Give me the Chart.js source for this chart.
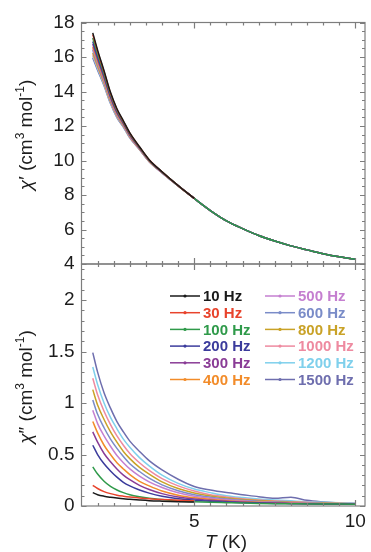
<!DOCTYPE html>
<html><head><meta charset="utf-8">
<script src="https://cdn.jsdelivr.net/npm/chart.js@4/dist/chart.umd.min.js"></script>
<style>
html,body{margin:0;padding:0;background:#fff;}
#wrap{position:relative;width:371px;height:552px;}
canvas{position:absolute;left:0;top:0;}
</style></head><body>
<div id="wrap"><canvas id="cTop" width="371" height="552"></canvas><canvas id="cBot" width="371" height="552"></canvas></div>
<script>
// ---------------- data ----------------
const temps = [1.85, 2.0, 2.2, 2.4, 2.6, 2.8, 3.0, 3.3, 3.6, 4.0, 4.5, 5.0, 5.5, 6.0, 6.5, 7.0, 7.5, 8.0, 8.5, 9.0, 9.5, 10.0];
const freqLabels = ['10 Hz','30 Hz','100 Hz','200 Hz','300 Hz','400 Hz','500 Hz','600 Hz','800 Hz','1000 Hz','1200 Hz','1500 Hz'];
const freqColors = ['#1a1a1a','#e8432c','#2f9a4a','#3b3b9c','#8a3c96','#f28c2a','#c57fd0','#7a8cc8','#c9a227','#ee8aa0','#7fd0ec','#6e6eae'];

// chi' (in-phase), cm3 mol-1
const chiIn10   = [17.4,16.4,15.2,13.95,13.0,12.3,11.6,10.8,10.05,9.35,8.55,7.8];
const chiIn30   = [17.3,16.32,15.14,13.9,12.96,12.27,11.58,10.79,10.04,9.35,8.55,7.8];
const chiIn100  = [17.1,16.16,15.02,13.82,12.9,12.23,11.54,10.76,10.03,9.34,8.54,7.8,7.1,6.5,6.05,5.65,5.33,5.05,4.82,4.6,4.42,4.28];
const chiIn200  = [16.9,16.0,14.9,13.73,12.83,12.18,11.5,10.74,10.01,9.33,8.54,7.8,7.1,6.5,6.05,5.65,5.33,5.05,4.82,4.6,4.42,4.28];
const chiIn300  = [16.75,15.88,14.81,13.66,12.77,12.14,11.47,10.72,10.0,9.32,8.54,7.8,7.1,6.5,6.05,5.65,5.33,5.05,4.82,4.6,4.42,4.28];
const chiIn400  = [16.6,15.76,14.72,13.59,12.72,12.1,11.44,10.7,9.99,9.31,8.53,7.8,7.1,6.5,6.05,5.65,5.33,5.05,4.82,4.6,4.42,4.28];
const chiIn500  = [16.5,15.68,14.66,13.54,12.68,12.07,11.42,10.69,9.98,9.3,8.53,7.8,7.1,6.5,6.05,5.65,5.33,5.05,4.82,4.6,4.42,4.28];
const chiIn600  = [16.4,15.6,14.6,13.5,12.65,12.05,11.4,10.68,9.97,9.3,8.53,7.8,7.1,6.5,6.05,5.65,5.33,5.05,4.82,4.6,4.42,4.28];
const chiIn800  = [16.25,15.48,14.51,13.43,12.6,12.01,11.37,10.66,9.96,9.29,8.53,7.8,7.1,6.5,6.05,5.65,5.33,5.05,4.82,4.6,4.42,4.28];
const chiIn1000 = [16.15,15.4,14.45,13.39,12.56,11.99,11.35,10.65,9.95,9.29,8.52,7.8,7.1,6.5,6.05,5.65,5.33,5.05,4.82,4.6,4.42,4.28];
const chiIn1200 = [16.05,15.32,14.39,13.34,12.53,11.96,11.33,10.64,9.94,9.28,8.52,7.8,7.1,6.5,6.05,5.65,5.33,5.05,4.82,4.6,4.42,4.28];
const chiIn1500 = [15.95,15.24,14.33,13.3,12.49,11.94,11.31,10.63,9.93,9.28,8.52,7.8,7.1,6.5,6.05,5.65,5.33,5.05,4.82,4.6,4.42,4.28];

// chi'' (out-of-phase), cm3 mol-1
const chiOut10   = [0.13,0.11,0.095,0.085,0.077,0.07,0.065,0.058,0.052,0.047,0.042,0.038];
const chiOut30   = [0.2,0.17,0.14,0.12,0.105,0.095,0.087,0.078,0.07,0.062,0.055,0.05];
const chiOut100  = [0.38,0.31,0.24,0.19,0.155,0.13,0.11,0.09,0.075,0.062,0.05,0.042,0.036,0.032,0.028,0.025,0.023,0.022,0.02,0.02,0.019,0.018];
const chiOut200  = [0.59,0.5,0.41,0.34,0.28,0.23,0.195,0.155,0.125,0.095,0.07,0.055,0.045,0.038,0.032,0.028,0.025,0.023,0.021,0.02,0.019,0.018];
const chiOut300  = [0.72,0.62,0.51,0.43,0.36,0.3,0.255,0.2,0.16,0.12,0.088,0.068,0.055,0.045,0.038,0.032,0.028,0.025,0.022,0.02,0.019,0.018];
const chiOut400  = [0.82,0.71,0.59,0.5,0.42,0.36,0.305,0.24,0.195,0.145,0.105,0.08,0.064,0.052,0.043,0.036,0.031,0.027,0.024,0.022,0.02,0.019];
const chiOut500  = [0.93,0.8,0.68,0.58,0.49,0.42,0.36,0.29,0.235,0.18,0.128,0.095,0.075,0.06,0.05,0.041,0.035,0.03,0.026,0.023,0.021,0.02];
const chiOut600  = [1.03,0.89,0.76,0.65,0.56,0.48,0.41,0.335,0.27,0.205,0.148,0.11,0.086,0.068,0.055,0.046,0.038,0.033,0.028,0.025,0.022,0.02];
const chiOut800  = [1.13,0.98,0.84,0.72,0.62,0.53,0.46,0.375,0.31,0.235,0.17,0.127,0.098,0.078,0.064,0.053,0.044,0.037,0.032,0.028,0.024,0.022];
const chiOut1000 = [1.24,1.08,0.92,0.79,0.68,0.59,0.51,0.42,0.345,0.265,0.195,0.145,0.11,0.088,0.07,0.058,0.049,0.042,0.036,0.031,0.027,0.024];
const chiOut1200 = [1.35,1.18,1.0,0.86,0.75,0.65,0.57,0.47,0.39,0.3,0.22,0.165,0.13,0.1,0.082,0.068,0.058,0.05,0.042,0.036,0.031,0.027];
const chiOut1500 = [1.49,1.3,1.1,0.95,0.82,0.72,0.63,0.53,0.44,0.35,0.26,0.19,0.155,0.13,0.11,0.09,0.075,0.085,0.055,0.04,0.03,0.025];

const chiInSeries  = [chiIn10,chiIn30,chiIn100,chiIn200,chiIn300,chiIn400,chiIn500,chiIn600,chiIn800,chiIn1000,chiIn1200,chiIn1500];
const chiOutSeries = [chiOut10,chiOut30,chiOut100,chiOut200,chiOut300,chiOut400,chiOut500,chiOut600,chiOut800,chiOut1000,chiOut1200,chiOut1500];

const xTickValues = [5, 10];
const yTickValuesTop = [4, 6, 8, 10, 12, 14, 16, 18];
const yTickValuesBottom = [0, 0.5, 1, 1.5, 2];

// ---------------- style ----------------
const FONT = "'Liberation Sans', Arial, sans-serif";
const AXIS_COLOR = '#7d7d7d';
const TEXT_COLOR = '#1c1c1c';

function buildDatasets(series) {
  return series.map((vals, i) => ({
    label: freqLabels[i],
    data: vals.map((v, k) => ({x: temps[k], y: v})),
    borderColor: freqColors[i],
    backgroundColor: freqColors[i],
    borderWidth: 1.5,
    pointRadius: 0,
    fill: false,
    cubicInterpolationMode: 'monotone'
  }));
}

function near(v, step) { const r = v / step; return Math.abs(r - Math.round(r)) < 1e-6; }

const framePlugin = {
  id: 'frame',
  afterDatasetsDraw(chart, args, o) {
    const {ctx, chartArea: a, scales} = chart;
    const xs = scales.x, ys = scales.y;
    ctx.save();
    ctx.strokeStyle = AXIS_COLOR;
    ctx.lineWidth = 1.2;
    ctx.strokeRect(a.left, a.top, a.right - a.left, a.bottom - a.top);
    ctx.beginPath();
    for (let i = 0; ; i++) {
      const v = o.xFrom + i * o.xMinor;
      if (v > o.xTo + 1e-9) break;
      const px = Math.round(xs.getPixelForValue(v)) + 0.5;
      const L = near(v, o.xMajor) ? 6 : 3;
      ctx.moveTo(px, a.top); ctx.lineTo(px, a.top + L);
      ctx.moveTo(px, a.bottom); ctx.lineTo(px, a.bottom - L);
    }
    for (let i = 0; ; i++) {
      const v = o.yFrom + i * o.yMinor;
      if (v > o.yTo + 1e-9) break;
      const py = Math.round(ys.getPixelForValue(v)) + 0.5;
      const L = near(v, o.yMajor) ? 5 : 3;
      ctx.moveTo(a.left, py); ctx.lineTo(a.left + L, py);
      ctx.moveTo(a.right, py); ctx.lineTo(a.right - L, py);
    }
    ctx.stroke();
    ctx.restore();
  }
};

function drawRich(ctx, pieces, cx, cy, rot) {
  ctx.save();
  ctx.translate(cx, cy);
  if (rot) ctx.rotate(rot);
  let total = 0;
  pieces.forEach(p => { ctx.font = p.font; total += ctx.measureText(p.t).width; });
  let x = -total / 2;
  ctx.textBaseline = 'alphabetic';
  ctx.textAlign = 'left';
  ctx.fillStyle = TEXT_COLOR;
  pieces.forEach(p => {
    ctx.font = p.font;
    ctx.fillText(p.t, x, 7 + (p.dy || 0));
    x += ctx.measureText(p.t).width;
  });
  ctx.restore();
}

const titlePlugin = {
  id: 'titles',
  afterDraw(chart, args, o) {
    const ctx = chart.ctx;
    const big = '19px ' + FONT, ital = 'italic 19px ' + FONT, sup = '12px ' + FONT;
    if (o.yTitle) {
      drawRich(ctx, [
        {t: 'χ', font: ital}, {t: o.yTitle, font: big}, {t: ' (cm', font: big},
        {t: '3', font: sup, dy: -8}, {t: ' mol', font: big}, {t: '-1', font: sup, dy: -8}, {t: ')', font: big}
      ], o.yx, o.yy, -Math.PI / 2);
    }
    if (o.xTitle) {
      drawRich(ctx, [{t: 'T', font: ital}, {t: ' (K)', font: big}], o.xx, o.xy, 0);
    }
    if (o.legend) {
      const ds = chart.data.datasets;
      ctx.save();
      ctx.font = 'bold 15px ' + FONT;
      ctx.textBaseline = 'middle';
      ds.forEach((d, i) => {
        const col = Math.floor(i / 6), row = i % 6;
        const y = 296 + row * 16.7;
        const x0 = col === 0 ? 170 : 265;
        ctx.strokeStyle = d.borderColor; ctx.lineWidth = 1.5;
        ctx.beginPath(); ctx.moveTo(x0, y); ctx.lineTo(x0 + 30, y); ctx.stroke();
        ctx.fillStyle = d.borderColor;
        ctx.beginPath(); ctx.arc(x0 + 15, y, 1.6, 0, Math.PI * 2); ctx.fill();
        ctx.fillText(d.label, x0 + 33, y + 1);
      });
      ctx.restore();
    }
  }
};

function yAxis(min, max, tickVals) {
  return {
    type: 'linear', min, max,
    afterBuildTicks: s => { s.ticks = tickVals.map(v => ({value: v})); },
    afterFit: s => { s.width = 81.5; },
    grid: {display: false, drawTicks: false},
    border: {display: false},
    ticks: {color: TEXT_COLOR, font: {family: FONT, size: 19}, padding: 7, callback: v => String(v)}
  };
}

const commonOpts = {
  responsive: false, animation: false, devicePixelRatio: 1,
  events: [],
  plugins: {legend: {display: false}, tooltip: {enabled: false}}
};

new Chart(document.getElementById('cTop'), {
  type: 'line',
  data: {datasets: buildDatasets(chiInSeries)},
  plugins: [framePlugin, titlePlugin],
  options: {
    ...commonOpts,
    layout: {padding: {top: 22.5, right: 6, bottom: 288, left: 0}},
    scales: {
      x: {type: 'linear', min: 1.5, max: 10.3, display: false},
      y: yAxis(4, 18, yTickValuesTop)
    },
    plugins: {
      ...commonOpts.plugins,
      frame: {xFrom: 2, xTo: 10, xMinor: 0.5, xMajor: 5, yFrom: 4, yTo: 18, yMinor: 0.5, yMajor: 2},
      titles: {yTitle: '′', yx: 25, yy: 135}
    }
  }
});

new Chart(document.getElementById('cBot'), {
  type: 'line',
  data: {datasets: buildDatasets(chiOutSeries)},
  plugins: [framePlugin, titlePlugin],
  options: {
    ...commonOpts,
    layout: {padding: {top: 264, right: 6, bottom: 0, left: 0}},
    scales: {
      x: {
        type: 'linear', min: 1.5, max: 10.3,
        afterBuildTicks: s => { s.ticks = xTickValues.map(v => ({value: v})); },
        afterFit: s => { s.height = 46; },
        grid: {display: false, drawTicks: false},
        border: {display: false},
        ticks: {color: TEXT_COLOR, font: {family: FONT, size: 19}, padding: 4, maxRotation: 0, callback: v => String(v)}
      },
      y: yAxis(0, 2.35, yTickValuesBottom)
    },
    plugins: {
      ...commonOpts.plugins,
      frame: {xFrom: 2, xTo: 10, xMinor: 0.5, xMajor: 5, yFrom: 0, yTo: 2.3, yMinor: 0.1, yMajor: 0.5},
      titles: {yTitle: '″', yx: 25, yy: 387, xTitle: true, xx: 226, xy: 541, legend: true}
    }
  }
});
</script>
</body></html>
